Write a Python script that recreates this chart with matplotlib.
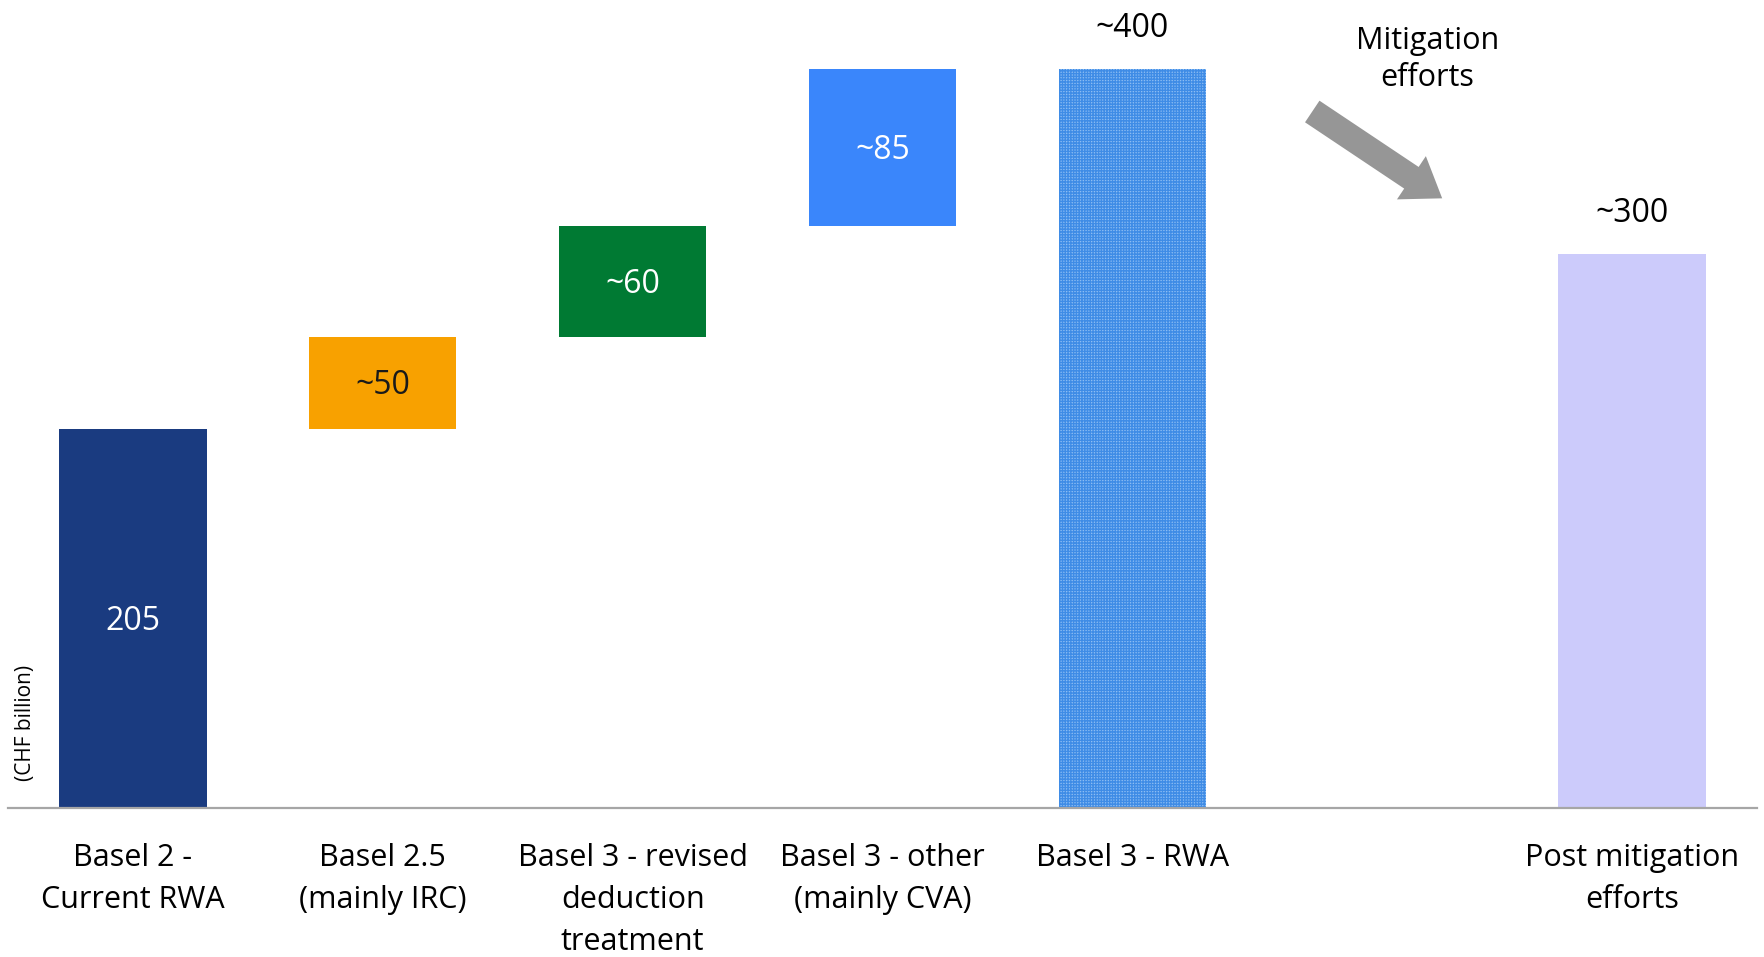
import matplotlib
matplotlib.use("Agg")
import matplotlib.pyplot as plt
import matplotlib.patches as mpatches
import matplotlib.transforms as mtransforms
import numpy as np

plt.rcParams['font.family'] = ['Open Sans', 'DejaVu Sans']
plt.rcParams['hatch.linewidth'] = 1.0

# RWA bridge (CHF billion)
categories = ["Basel 2 -\nCurrent RWA", "Basel 2.5\n(mainly IRC)",
              "Basel 3 - revised\ndeduction\ntreatment",
              "Basel 3 - other\n(mainly CVA)", "Basel 3 - RWA",
              "Post mitigation\nefforts"]
positions = [0, 1, 2, 3, 4, 6]
values = [205, 50, 60, 85, 400, 300]
value_labels = ["205", "~50", "~60", "~85", "~400", "~300"]
is_total = [True, False, False, False, True, True]

colors = ["#1a3b80", "#f8a100", "#007a33", "#3a86fb", "#7db2ee", "#cccbfb"]
label_colors = ["white", "#1a1a1a", "white", "white", "black", "black"]

fig = plt.figure(figsize=(17.64, 9.57), dpi=100)
ax = fig.add_axes([8 / 1764, 1 - 808 / 957, (1757 - 8) / 1764, (808 - 69) / 957])

# running base for the increments
bottoms = []
running = 0
for v, tot in zip(values, is_total):
    if tot:
        bottoms.append(0)
        running = v
    else:
        bottoms.append(running)
        running += v

width = 0.59
for i, (x, v, b) in enumerate(zip(positions, values, bottoms)):
    if i == 4:
        ax.bar(x, v, width, bottom=b, color="#8dbdf3", edgecolor="#3f8ce6",
               hatch="++++++", linewidth=0)
    else:
        ax.bar(x, v, width, bottom=b, color=colors[i], linewidth=0)
    if is_total[i] and i > 0:
        ax.text(x, b + v + 22, value_labels[i], ha="center", va="center",
                fontsize=23, color=label_colors[i])
    else:
        ax.text(x, b + v / 2 - 1.5, value_labels[i], ha="center", va="center",
                fontsize=23, color=label_colors[i])

ax.set_xlim(-0.5, 6.5)
ax.set_ylim(0, 400)
for s in ["top", "right", "left"]:
    ax.spines[s].set_visible(False)
ax.spines["bottom"].set_color("#a6a6a6")
ax.spines["bottom"].set_linewidth(1.6)
ax.set_xticks([])
ax.set_yticks([])
ax.patch.set_alpha(0)

# category labels under the axis
label_tf = mtransforms.blended_transform_factory(ax.transData, ax.transAxes)
for x, lab in zip(positions, categories):
    ax.text(x, -0.048, lab, transform=label_tf, ha="center", va="top",
            fontsize=22, linespacing=1.52, color="black")

fig.text(25 / 1764, 1 - 723 / 957, "(CHF billion)", rotation=90,
         ha="center", va="center", fontsize=15)

ax.text(5.18, 405, "Mitigation\nefforts", ha="center", va="center",
        fontsize=22, linespacing=1.32, clip_on=False)

# grey arrow towards the post-mitigation bar
p0 = ax.transData.transform((4.72, 377))
p1 = ax.transData.transform((5.24, 330))
arrow = mpatches.FancyArrow(p0[0], p0[1], p1[0] - p0[0], p1[1] - p0[1],
                            width=26, head_width=52, head_length=37,
                            length_includes_head=True, color="#969696",
                            linewidth=0, transform=mtransforms.IdentityTransform())
fig.add_artist(arrow)

fig.savefig("out.png", dpi=100)
